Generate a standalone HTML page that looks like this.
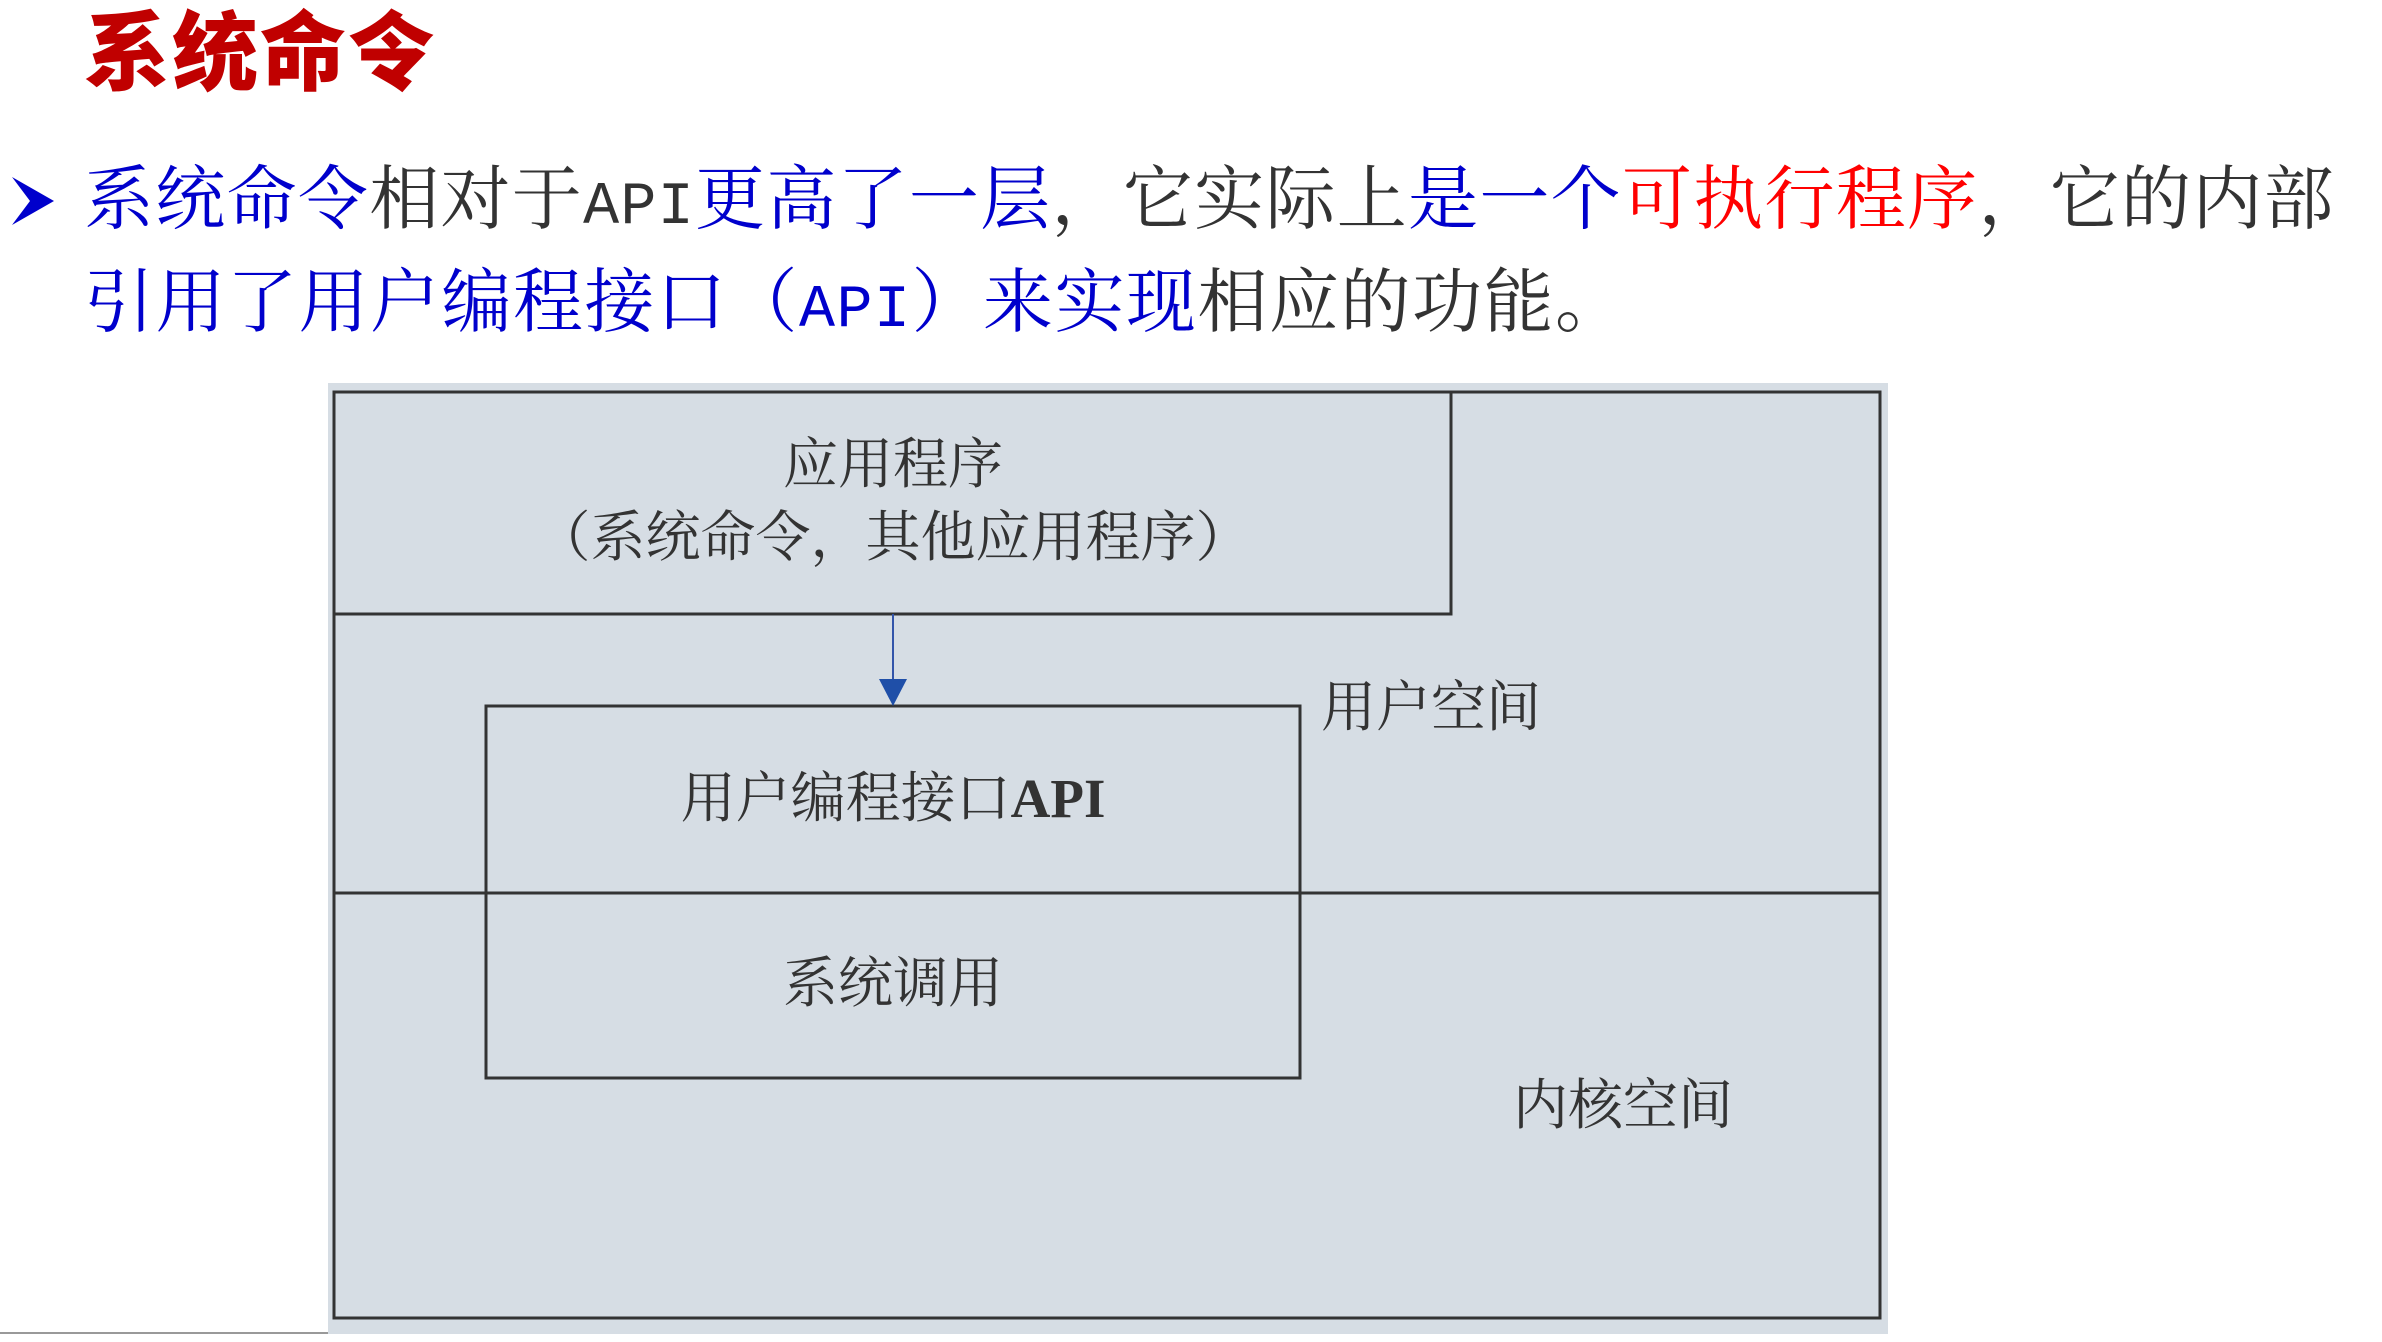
<!DOCTYPE html>
<html><head><meta charset="utf-8"><style>
body{margin:0;width:2382px;height:1342px;background:#fff;position:relative;overflow:hidden;font-family:"Liberation Serif","Noto Serif CJK SC",serif}
.a{position:absolute;white-space:nowrap}
.t{font-family:"Liberation Sans","Noto Sans CJK SC",sans-serif;font-weight:900;color:#c00000;font-size:86px;left:84px;top:4px;line-height:100px;letter-spacing:2px}
.l{font-family:"Liberation Serif","Noto Serif CJK SC",serif;font-size:70px;line-height:80px;left:84px}
.b{color:#0000cc}.k{color:#333}.r{color:#ff0000}
.m{font-family:"Liberation Mono",monospace;font-size:60px}
.d{font-size:55px;color:#333;line-height:60px}
</style></head><body>
<div class="a t">系统命令</div>
<svg class="a" style="left:10px;top:175px" width="46" height="52"><polygon points="2,2 44,26 2,50 20,26" fill="#0000cc"/></svg>
<div class="a l" style="top:161px;letter-spacing:1.3px"><span class="b">系统命令</span><span class="k">相对于<span class="m">API</span></span><span class="b">更高了一层</span><span class="k">，它实际上</span><span class="b">是一个</span><span class="r">可执行程序</span><span class="k">，它的内部</span></div>
<div class="a l" style="top:264px;letter-spacing:1.5px"><span class="b">引用了用户编程接口（<span class="m">API</span>）来实现</span><span class="k">相应的功能。</span></div>
<div class="a" style="left:0;top:1332px;width:330px;height:2px;background:#999"></div>
<svg class="a" style="left:328px;top:383px" width="1560" height="959">
<rect x="0" y="0" width="1560" height="951" fill="#d6dde4"/>
<g fill="none" stroke="#333" stroke-width="3">
<rect x="6" y="9" width="1546" height="926"/>
<polyline points="6,231 1123,231 1123,9"/>
<line x1="6" y1="510" x2="1552" y2="510"/>
<rect x="158" y="323" width="814" height="372"/>
</g>
<line x1="565" y1="231" x2="565" y2="300" stroke="#3355aa" stroke-width="2"/>
<polygon points="551,296 579,296 565,323" fill="#1f4fa8"/>
</svg>
<div class="a d" style="left:893px;top:435px;transform:translateX(-50%)">应用程序</div>
<div class="a d" style="left:893px;top:508px;transform:translateX(-50%)">（系统命令，其他应用程序）</div>
<div class="a d" style="left:1321px;top:678px">用户空间</div>
<div class="a d" style="left:893px;top:769px;transform:translateX(-50%)">用户编程接口<b style="font-family:'Liberation Serif',serif">API</b></div>
<div class="a d" style="left:893px;top:954px;transform:translateX(-50%)">系统调用</div>
<div class="a d" style="left:1513px;top:1076px">内核空间</div>
</body></html>
